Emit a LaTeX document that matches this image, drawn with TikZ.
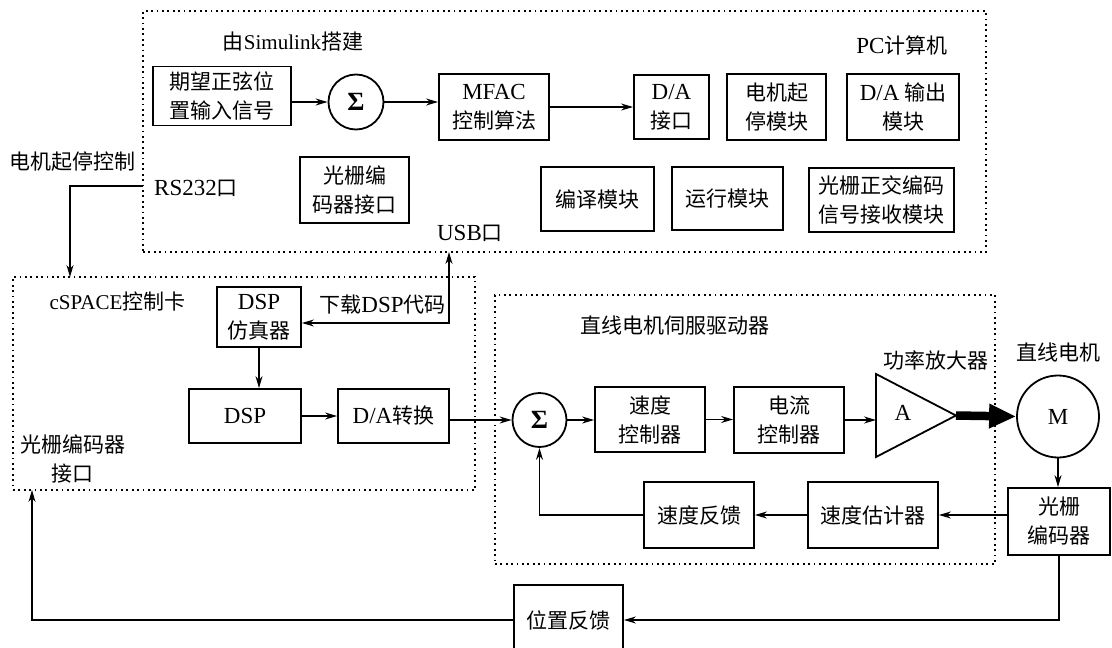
\documentclass[tikz,border=0pt]{standalone}
\usepackage{fontspec}
\setmainfont{Noto Sans CJK SC}
\newfontfamily\lat{Liberation Serif}[Scale=1.095]
\newcommand\la[1]{{\lat #1}}
\newcommand\las[1]{{\lat\fontsize{19.2}{29}\selectfont #1}}
\newcommand\sigmasym{{\lat\bfseries\fontsize{24}{29}\selectfont Σ}}
\usetikzlibrary{arrows.meta,calc}

\tikzset{
  base/.style={font=\fontsize{21}{29}\selectfont, text=black},
  box/.style={base, draw, line width=1.8pt, inner sep=0pt, align=center},
  sumnode/.style={base, draw, circle, line width=1.8pt, inner sep=0pt},
  lbl/.style={base, inner sep=0pt, align=center},
  dotbox/.style={draw, line width=1.8pt, dash pattern=on 1.8pt off 3.6pt, inner sep=0pt},
  arr/.style={line width=1.3pt, -{Stealth[length=12pt,width=7pt]}},
  arrboth/.style={line width=1.3pt, {Stealth[length=12pt,width=7pt]}-{Stealth[length=12pt,width=7pt]}},
  plain/.style={line width=1.3pt}
}

\begin{document}
\begin{tikzpicture}[x=1pt,y=-1pt]
\useasboundingbox (0,0) rectangle (1112,648);

% dotted groups
\node[dotbox, minimum width=843pt, minimum height=241pt] (pcbox) at (564.5,131.5) {};
\node[dotbox, minimum width=462pt, minimum height=213pt] (cspace) at (244,383.5) {};
\node[dotbox, minimum width=500pt, minimum height=269pt] (servo) at (745,429.5) {};

% group labels
\node[lbl] (simlbl) at (293,42) {由\las{Simulink}搭建};
\node[lbl] (pclbl) at (902,45) {\la{PC}计算机};
\node[lbl] (startlbl) at (72.5,162) {电机起停控制};
\node[lbl] (rslbl) at (196,188) {\la{RS232}口};
\node[lbl] (usblbl) at (470,233) {\la{USB}口};
\node[lbl] (cslbl) at (117.5,302) {\las{cSPACE}控制卡};
\node[lbl] (encif) at (72.5,459) {光栅编码器\\接口};
\node[lbl] (dllbl) at (382.5,305) {下载\la{DSP}代码};
\node[lbl] (servolbl) at (675,326) {直线电机伺服驱动器};
\node[lbl] (amplbl) at (936,360) {功率放大器};
\node[lbl] (motorlbl) at (1058,352) {直线电机};

% PC blocks
\node[box, minimum width=138pt, minimum height=59pt] (want) at (222,96) {期望正弦位\\置输入信号};
\node[sumnode, minimum size=55pt] (sum1) at (356,102) {\sigmasym};
\node[box, minimum width=110pt, minimum height=66pt] (mfac) at (494,107) {\la{MFAC}\\控制算法};
\node[box, minimum width=75pt, minimum height=64pt] (daif) at (671.5,107) {\la{D/A}\\接口};
\node[box, minimum width=99pt, minimum height=66pt] (motorsw) at (776.5,107) {电机起\\停模块};
\node[box, minimum width=112pt, minimum height=66pt] (daout) at (903,107) {\la{D/A} 输出\\模块};
\node[box, minimum width=109pt, minimum height=66pt] (gratif) at (354.5,190) {光栅编\\码器接口};
\node[box, minimum width=113pt, minimum height=64pt] (compile) at (597.5,199) {编译模块};
\node[box, minimum width=111pt, minimum height=63pt] (run) at (727.5,198.5) {运行模块};
\node[box, minimum width=145pt, minimum height=64pt] (quad) at (881.5,200) {光栅正交编码\\信号接收模块};

% control card blocks
\node[box, minimum width=84pt, minimum height=60pt] (dspsim) at (259,317) {\la{DSP}\\仿真器};
\node[box, minimum width=112pt, minimum height=54pt] (dsp) at (245,416) {\la{DSP}};
\node[box, minimum width=111pt, minimum height=54pt] (dac) at (393.5,416) {\la{D/A}转换};

% servo drive blocks
\node[sumnode, minimum size=54pt] (sum2) at (539.5,420) {\sigmasym};
\node[box, minimum width=110pt, minimum height=65pt] (spdctl) at (650,419.5) {速度\\控制器};
\node[box, minimum width=110pt, minimum height=66pt] (curctl) at (789,420) {电流\\控制器};
\node[box, minimum width=130pt, minimum height=66pt] (spdest) at (873,515) {速度估计器};
\node[box, minimum width=110pt, minimum height=66pt] (spdfb) at (699,515) {速度反馈};

% power amplifier
\draw[line width=1.8pt, line join=miter] (876,374) -- (956,415.5) -- (876,457) -- cycle;
\coordinate (ampin) at (876,415.5);
\coordinate (ampout) at (956,415.5);
\node[lbl] (ampA) at (903,413) {\la{A}};

% motor and encoder
\node[sumnode, minimum size=82pt] (motor) at (1058,416.5) {\la{M}};
\node[box, minimum width=102pt, minimum height=67pt] (grat) at (1059,521.5) {光栅\\编码器};
\node[box, minimum width=109pt, minimum height=70pt] (posfb) at (568.5,620) {位置反馈};

% ports
\coordinate (rs232) at (143,186);
\coordinate (rsin) at (70,277);
\coordinate (usb) at (449,252);
\coordinate (posin) at (32,490);

% connectors
\draw[arr] (want.east |- sum1) -- (sum1.west);
\draw[arr] (sum1.east) -- (sum1.east -| mfac.west);
\draw[arr] (mfac.east) -- (daif.west);
\draw[arr] (rs232) -| (rsin);
\draw[arrboth] ($(dspsim.east)+(0,6)$) -| (usb);
\draw[arr] (dspsim.south) -- (dspsim.south |- dsp.north);
\draw[arr] (dsp.east) -- (dac.west);
\draw[arr] (dac.east |- sum2) -- (sum2.west);
\draw[arr] (sum2.east) -- (sum2.east -| spdctl.west);
\draw[arr] (spdctl.east) -- (spdctl.east -| curctl.west);
\draw[arr] (curctl.east) -- (curctl.east -| ampin);
\draw[line width=8.5pt, -{Triangle[length=27pt,width=23pt]}] (ampout) -- (motor.west);
\draw[arr] (motor.south) -- (motor.south |- grat.north);
\draw[arr] (grat.west |- spdest.east) -- (spdest.east);
\draw[arr] (spdest.west) -- (spdfb.east);
\draw[arr] (spdfb.west) -| (sum2.south);
\draw[arr] (grat.south) |- (posfb.east);
\draw[arr] (posfb.west) -| (posin);
\end{tikzpicture}
\end{document}
